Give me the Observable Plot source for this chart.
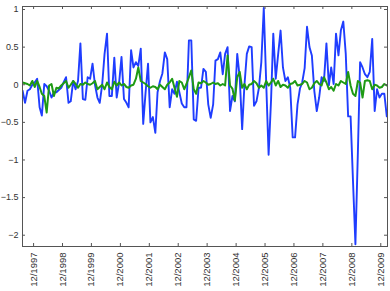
<!DOCTYPE html>
<html><head><meta charset="utf-8">
<script src="https://cdn.jsdelivr.net/npm/d3@7"></script>
<script src="https://cdn.jsdelivr.net/npm/@observablehq/plot@0.6"></script>
<style>body{margin:0;background:#fff} svg{display:block}</style>
</head><body><div id="chart"></div>
<script>
// Monthly series, first value = July 1997
const startMonth = "1997-07";
const blue = [
-0.08,-0.24,-0.08,-0.06,0.0,0.03,0.08,-0.3,-0.41,0.01,
-0.02,-0.08,-0.17,-0.1,-0.1,-0.07,-0.04,0.03,0.1,-0.24,
-0.22,0.05,-0.06,0.05,0.55,-0.19,-0.2,0.1,0.08,0.28,
0.0,-0.17,-0.24,0.0,0.41,0.68,-0.15,-0.15,0.36,-0.17,
0.03,0.37,-0.19,-0.24,-0.3,0.46,0.23,0.3,0.25,0.48,
-0.52,-0.1,0.28,-0.5,-0.43,-0.64,-0.1,0.05,0.15,0.43,
0.34,-0.3,-0.06,-0.12,0.04,-0.1,-0.25,-0.3,-0.3,0.59,
0.59,-0.46,-0.48,-0.04,-0.04,0.21,0.17,-0.26,-0.44,-0.26,
0.32,0.34,0.43,0.14,0.41,0.5,-0.35,-0.15,-0.22,0.41,
0.1,-0.59,-0.02,0.41,0.51,0.5,-0.28,-0.22,-0.04,0.3,
1.02,0.05,-0.93,-0.2,0.68,0.08,0.4,0.72,0.23,0.05,
0.1,-0.04,-0.7,-0.7,-0.26,-0.05,0.03,0.22,0.77,0.5,
0.39,-0.08,-0.35,-0.17,0.1,0.05,0.55,-0.01,0.23,0.01,
0.68,0.39,0.72,0.84,0.41,-0.42,-0.42,-1.27,-2.12,-0.9,
0.3,0.23,0.14,0.1,0.17,0.61,-0.35,-0.06,-0.17,-0.12,
-0.12,-0.42
];
const green = [
0.03,0.02,0.01,-0.01,0.05,-0.03,0.05,-0.03,-0.12,-0.15,
-0.37,-0.01,0.01,-0.15,-0.04,-0.05,-0.01,0.02,0.05,-0.04,
0.0,0.05,0.01,-0.04,0.01,0.0,0.03,0.01,0.0,0.02,
0.05,-0.06,-0.03,0.0,-0.06,0.03,-0.03,-0.06,0.04,-0.01,
0.03,-0.01,0.01,-0.03,-0.04,-0.01,0.0,0.08,0.23,0.05,
0.03,0.01,-0.02,-0.04,-0.02,-0.03,-0.06,0.0,-0.03,-0.06,
0.0,0.03,0.08,-0.04,-0.16,0.05,0.03,-0.06,0.01,0.1,
0.19,-0.06,-0.12,0.03,0.02,0.05,0.03,0.0,0.01,0.03,
0.01,0.02,-0.01,0.01,-0.01,0.39,-0.01,-0.05,-0.21,0.1,
0.17,-0.04,0.01,-0.06,0.0,0.01,0.05,0.02,-0.04,-0.01,
-0.04,0.05,-0.01,0.03,0.08,-0.01,0.05,-0.03,0.0,-0.01,
-0.04,0.01,0.02,0.05,-0.01,0.0,0.01,0.05,0.03,-0.06,
-0.04,0.02,0.05,0.01,-0.01,0.1,0.03,-0.06,-0.03,-0.08,
0.01,-0.01,0.05,0.03,0.01,0.17,-0.01,-0.12,-0.15,0.05,
0.03,-0.17,0.05,0.06,0.05,-0.06,0.0,-0.01,-0.04,-0.03,
0.01,-0.01
];
const xTickLabels = ["12/1997","12/1998","12/1999","12/2000","12/2001","12/2002","12/2003",
  "12/2004","12/2005","12/2006","12/2007","12/2008","12/2009"];
const yTicks = [1, 0.5, 0, -0.5, -1, -1.5, -2];

const t0 = d3.utcParse("%Y-%m")(startMonth);
const dateAt = i => d3.utcDay.offset(d3.utcMonth.offset(t0, i), 14);
const rows = blue.map((v, i) => ({date: dateAt(i), blue: v, green: green[i]}));
const xTicks = xTickLabels.map(s => d3.utcParse("%m/%Y")(s));

const W = 390, H = 291, mL = 22, mR = 3, mT = 6, mB = 45;
const plotW = W - mL - mR, plotH = H - mT - mB;
const axisColor = "#555";
const font = "'Liberation Sans', Arial, Helvetica, sans-serif";

const chart = Plot.plot({
  width: W, height: H,
  marginLeft: mL, marginRight: mR, marginTop: mT, marginBottom: mB,
  style: {fontFamily: font, fontSize: "9px", color: "#333", background: "#fff"},
  x: {type: "utc", domain: [new Date(Date.UTC(1997, 6, 14)), new Date(Date.UTC(2010, 1, 24))]},
  y: {domain: [-2.15, 1.04]},
  marks: [
    Plot.lineY(rows, {x: "date", y: "blue", stroke: "#1f3dff", strokeWidth: 1.9, clip: true}),
    Plot.lineY(rows, {x: "date", y: "green", stroke: "#1e9a14", strokeWidth: 2, clip: true}),
    Plot.tickX(xTicks, {x: d => d, insetTop: plotH - 3, stroke: axisColor}),
    Plot.tickX(xTicks, {x: d => d, insetBottom: plotH - 3, stroke: axisColor}),
    Plot.tickY(yTicks, {y: d => d, insetRight: plotW - 3, stroke: axisColor}),
    Plot.tickY(yTicks, {y: d => d, insetLeft: plotW - 3, stroke: axisColor}),
    Plot.axisX({anchor: "bottom", ticks: xTicks, tickSize: 0, tickPadding: 6, tickRotate: -90,
      tickFormat: d3.utcFormat("%m/%Y"), label: null, fontSize: 9.5, fill: "#333"}),
    Plot.axisY({anchor: "left", ticks: yTicks, tickSize: 0, tickPadding: 4,
      tickFormat: d => String(d).replace("-", "\u2212"), label: null, fontSize: 9, fill: "#333"}),
    Plot.frame({stroke: axisColor})
  ]
});
document.getElementById("chart").appendChild(chart);
</script>
</body></html>
